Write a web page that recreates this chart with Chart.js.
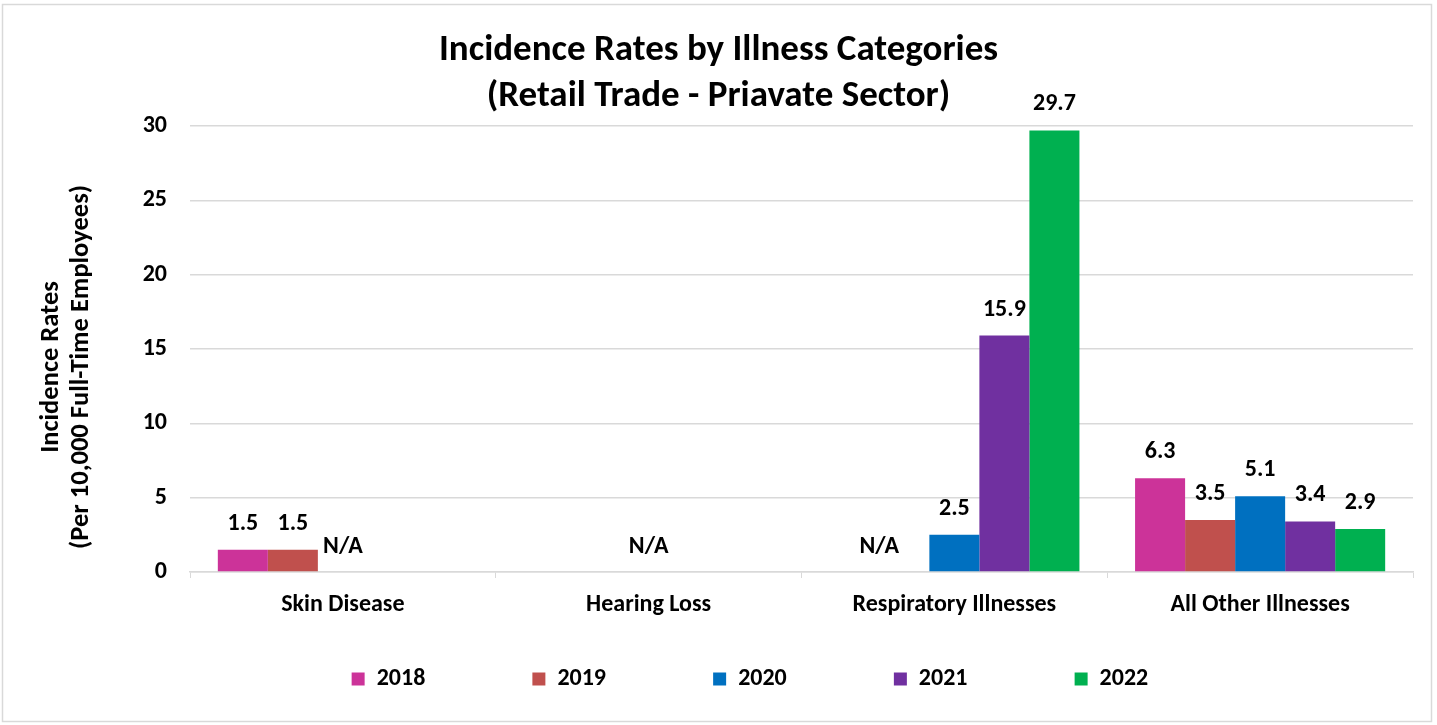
<!DOCTYPE html>
<html>
<head>
<meta charset="utf-8">
<script src="https://cdn.jsdelivr.net/npm/chart.js@4.4.0/dist/chart.umd.min.js"></script>
<style>
html,body{margin:0;padding:0;background:#fff;}
#wrap{width:1437px;height:725px;position:relative;}
</style>
</head>
<body>
<div id="wrap"><canvas id="c" width="1437" height="725"></canvas></div>
<script>
// ---- data ----
const categories = ['Skin Disease', 'Hearing Loss', 'Respiratory Illnesses', 'All Other Illnesses'];
const years = ['2018', '2019', '2020', '2021', '2022'];
const v2018 = [1.5, null, null, 6.3];
const v2019 = [1.5, null, null, 3.5];
const v2020 = [null, null, 2.5, 5.1];
const v2021 = [null, null, 15.9, 3.4];
const v2022 = [null, null, 29.7, 2.9];
// slot (dataset position) where the "N/A" note sits in each category
const naLabelSlot = [2, 2, 0.5, null];
const yMin = 0, yMax = 30, yStep = 5;
const titleLines = ['Incidence Rates by Illness Categories', '(Retail Trade - Priavate Sector)'];
const yTitleLines = ['Incidence Rates', '(Per 10,000 Full-Time Employees)'];
const colors = ['#CC3399', '#C0504D', '#0070C0', '#7030A0', '#00B050'];

const seriesValues = [v2018, v2019, v2020, v2021, v2022];

function build() {
  const FONT = 'Carlito, Lato, "Open Sans", sans-serif';
  Chart.defaults.font.family = FONT;
  Chart.defaults.color = '#000';

  const meas = document.createElement('canvas').getContext('2d');
  // pad text with trailing spaces up to a target extra width
  function padTo(t, font, targetWidth) {
    meas.font = font;
    let s = t;
    while (Math.abs(meas.measureText(s + ' ').width - targetWidth) <
           Math.abs(meas.measureText(s).width - targetWidth)) s += ' ';
    return s;
  }
  function trailSpaces(t, font, extra) {
    meas.font = font;
    return padTo(t, font, meas.measureText(t).width + extra);
  }
  const LEG_FONT = 'bold 24px ' + FONT;
  const YT_FONT = 'bold 26.5px ' + FONT;
  const yTitleText = yTitleLines.map(t => trailSpaces(t, YT_FONT, 38));

  const border = {
    id: 'border',
    beforeDraw(chart) {
      const ctx = chart.ctx;
      ctx.save();
      ctx.fillStyle = '#fff';
      ctx.fillRect(0, 0, chart.width, chart.height);
      ctx.strokeStyle = '#d9d9d9';
      ctx.lineWidth = 1.5;
      ctx.strokeRect(2.5, 4.5, chart.width - 8, chart.height - 8);
      ctx.restore();
    }
  };

  const valueLabels = {
    id: 'valueLabels',
    afterDatasetsDraw(chart) {
      const ctx = chart.ctx;
      const ys = chart.scales.y;
      ctx.save();
      ctx.font = 'bold 24px ' + FONT;
      ctx.fillStyle = '#000';
      ctx.textAlign = 'center';
      ctx.textBaseline = 'middle';
      chart.data.datasets.forEach((ds, d) => {
        const meta = chart.getDatasetMeta(d);
        meta.data.forEach((bar, i) => {
          const v = ds.data[i];
          if (v === null || v === undefined) return;
          ctx.fillText(v.toFixed(1), bar.x, bar.y - 26);
        });
      });
      naLabelSlot.forEach((slot, i) => {
        if (slot === null) return;
        const lo = Math.floor(slot), hi = Math.ceil(slot);
        const xa = chart.getDatasetMeta(lo).data[i].x;
        const xb = chart.getDatasetMeta(hi).data[i].x;
        const x = xa + (xb - xa) * (slot - lo);
        ctx.fillText('N/A', x, ys.getPixelForValue(0) - 25);
      });
      ctx.restore();
    }
  };

  new Chart(document.getElementById('c'), {
    type: 'bar',
    data: {
      labels: categories,
      datasets: years.map((y, k) => ({
        label: y,
        data: seriesValues[k],
        backgroundColor: colors[k],
        borderWidth: 0,
        barPercentage: 1.0,
        categoryPercentage: 0.818
      }))
    },
    options: {
      responsive: false,
      devicePixelRatio: 1,
      animation: false,
      layout: { padding: { top: 4, left: 24, right: 24, bottom: 24 } },
      plugins: {
        tooltip: { enabled: false },
        title: {
          display: true,
          text: titleLines,
          color: '#000',
          font: { size: 37, weight: 'bold', family: FONT, lineHeight: 46 / 37 },
          padding: { top: 23.5, bottom: 6.5 }
        },
        legend: {
          position: 'bottom',
          fullSize: false,
          labels: {
            boxWidth: 13,
            boxHeight: 13,
            padding: 4,
            color: '#000',
            font: { size: 24, weight: 'bold', family: FONT },
            generateLabels(chart) {
              return chart.data.datasets.map((ds, i) => ({
                text: padTo(ds.label, LEG_FONT, 151.5),
                fillStyle: ds.backgroundColor,
                strokeStyle: ds.backgroundColor,
                lineWidth: 0,
                hidden: false,
                datasetIndex: i
              }));
            }
          }
        }
      },
      scales: {
        x: {
          grid: {
            offset: true,
            drawOnChartArea: false,
            drawTicks: true,
            tickLength: 6,
            color: '#d9d9d9'
          },
          border: { display: true, color: '#d9d9d9', width: 1.5 },
          ticks: {
            padding: 12.5,
            color: '#000',
            font: { size: 24, weight: 'bold', family: FONT },
            maxRotation: 0
          },
          afterFit(scale) { scale.height = 91; }
        },
        y: {
          min: yMin,
          max: yMax,
          ticks: {
            stepSize: yStep,
            padding: 23,
            color: '#000',
            font: { size: 24, weight: 'bold', family: FONT }
          },
          grid: { color: '#d9d9d9', lineWidth: 1.5, drawTicks: false },
          border: { display: false },
          title: {
            display: true,
            text: yTitleText,
            color: '#000',
            font: { size: 26.5, weight: 'bold', family: FONT, lineHeight: 30.5 / 26.5 },
            padding: { top: 12, bottom: 0 }
          },
          afterFit(scale) { scale.width = 166; }
        }
      }
    },
    plugins: [border, valueLabels]
  });
}

if (document.fonts && document.fonts.load) {
  Promise.all([
    document.fonts.load('bold 24px Carlito'),
    document.fonts.load('bold 37px Carlito')
  ]).then(build, build);
} else {
  build();
}
</script>
</body>
</html>
